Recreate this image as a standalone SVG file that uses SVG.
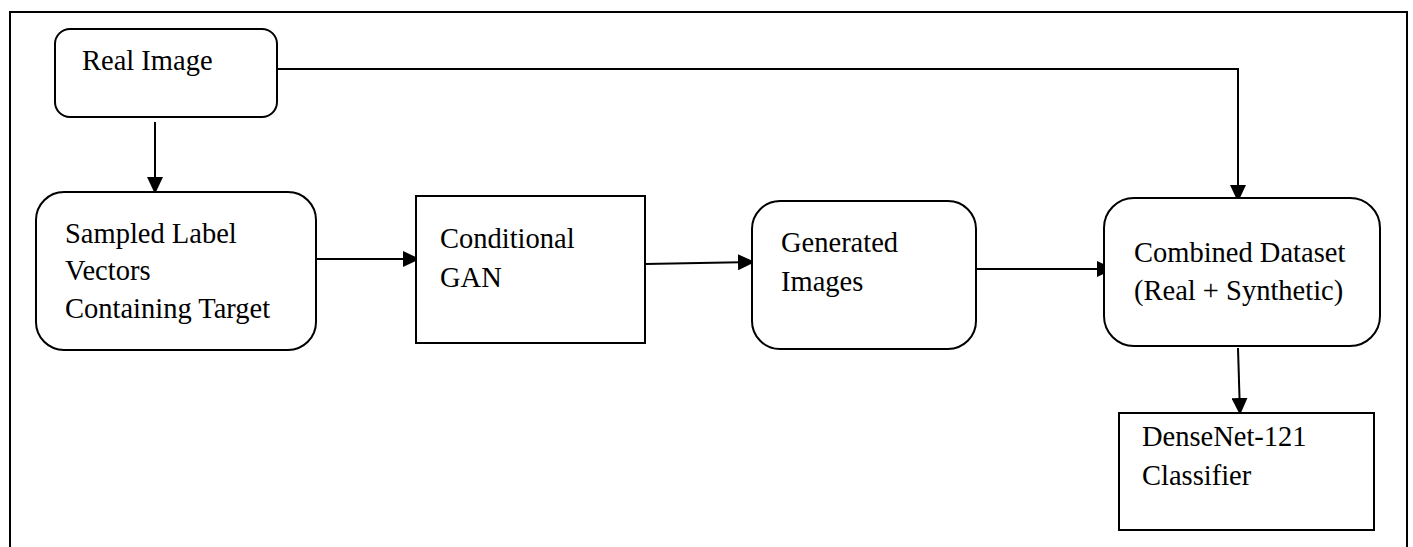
<svg xmlns="http://www.w3.org/2000/svg" width="1413" height="547" viewBox="0 0 1413 547">
<style>
.box{fill:#fff;stroke:#000;stroke-width:2}
.t{font-family:"Liberation Serif","Times New Roman",serif;font-size:28.5px;fill:#000}
.c{fill:none;stroke:#000;stroke-width:2}
</style>
<defs>
<marker id="ah" markerWidth="17" markerHeight="16" refX="16" refY="8" orient="auto" markerUnits="userSpaceOnUse">
<path d="M0,0 L17,8 L0,16 Z" fill="#000"/>
</marker>
</defs>
<rect x="10" y="12" width="1397" height="560" fill="none" stroke="#000" stroke-width="2"/>
<g id="connectors">
<line class="c" x1="155" y1="122" x2="155" y2="193" marker-end="url(#ah)"/>
<line class="c" x1="316" y1="259" x2="419" y2="259" marker-end="url(#ah)"/>
<line class="c" x1="645" y1="264" x2="754" y2="262" marker-end="url(#ah)"/>
<line class="c" x1="974" y1="269" x2="1113" y2="269" marker-end="url(#ah)"/>
<polyline class="c" points="277,69 1238,69 1238,201" marker-end="url(#ah)"/>
<line class="c" x1="1238" y1="348" x2="1240" y2="414" marker-end="url(#ah)"/>
</g>
<g id="real-image">
<rect class="box" x="55" y="29" width="222" height="88" rx="15"/>
<text class="t" x="82" y="70">Real Image</text>
</g>
<g id="sampled-label">
<rect class="box" x="36" y="192" width="280" height="158" rx="28"/>
<text class="t" x="65" y="243">Sampled Label</text>
<text class="t" x="65" y="280">Vectors</text>
<text class="t" x="65" y="318">Containing Target</text>
</g>
<g id="conditional-gan">
<rect class="box" x="416" y="196" width="229" height="147"/>
<text class="t" x="440" y="248">Conditional</text>
<text class="t" x="440" y="287">GAN</text>
</g>
<g id="generated-images">
<rect class="box" x="752" y="201" width="224" height="148" rx="28"/>
<text class="t" x="781" y="252">Generated</text>
<text class="t" x="781" y="291">Images</text>
</g>
<g id="combined-dataset">
<rect class="box" x="1104" y="198" width="276" height="148" rx="30"/>
<text class="t" x="1134" y="262">Combined Dataset</text>
<text class="t" x="1134" y="300">(Real + Synthetic)</text>
</g>
<g id="densenet">
<rect class="box" x="1119" y="413" width="255" height="117"/>
<text class="t" x="1142" y="446">DenseNet-121</text>
<text class="t" x="1142" y="485">Classifier</text>
</g>
</svg>
